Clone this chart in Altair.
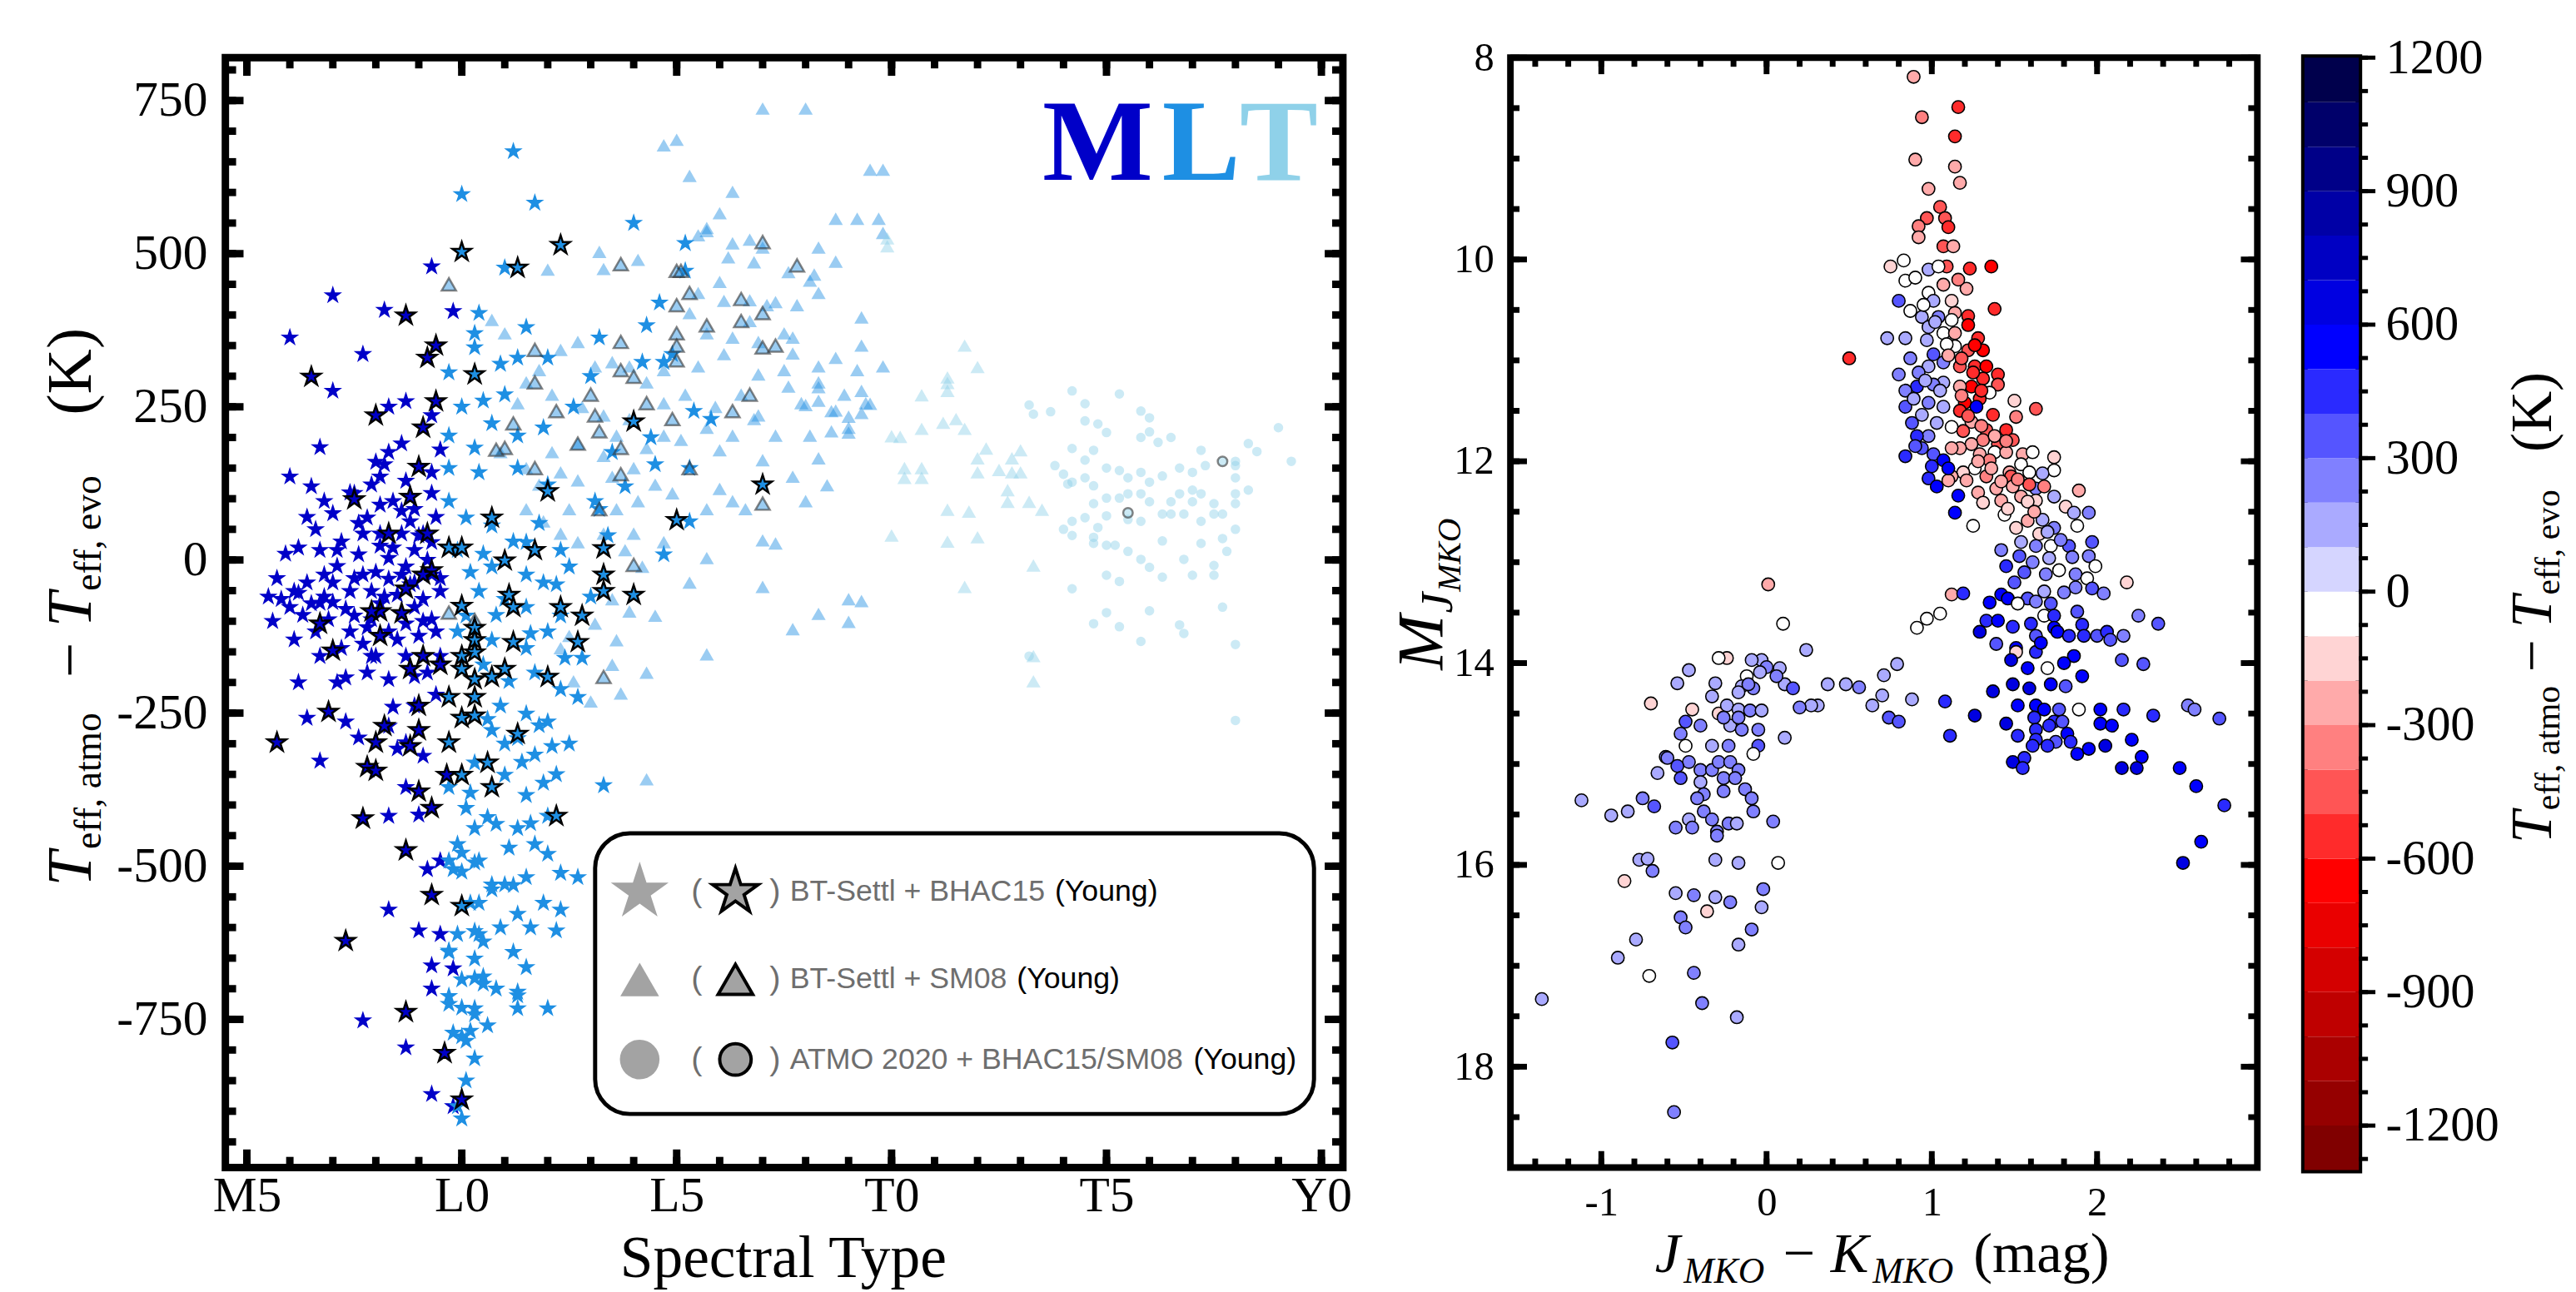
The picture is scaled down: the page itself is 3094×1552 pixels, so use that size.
import altair as alt
import pandas as pd
import numpy as np

SERIF = "Liberation Serif"
SANS = "Liberation Sans"

# ================= LEFT PANEL DATA =================
# x: spectral type index (M5=-5, L0=0, L5=5, T0=10, T5=15, Y0=20); y: Teff,atmo - Teff,evo (K)
m_stars = [(-4.0,363),(-3.0,432),(-2.3,336),(-3.0,276),(-1.8,408),(-0.7,479),(-0.2,406),(-1.3,259),(-1.7,250),(-0.7,236),
 (-3.3,184),(-4.0,136),(-3.5,120),(-3.2,96),(-3.0,76),(-1.7,176),(-1.8,156),(-1.3,129),(-0.7,143),(-2.1,123),(-1.9,136),
 (-2.5,109),(-1.6,96),(-1.1,83),(-0.7,109),(-3.3,16),(-2.9,16),(-2.3,43),(-1.9,23),(-1.4,43),(-1.1,16),(-0.7,29),
 (-4.2,-64),(-3.9,-51),(-3.5,-71),(-3.6,-37),(-3.2,-24),(-3.0,-37),(-2.6,-51),(-2.3,-24),(-2.1,-51),(-1.9,-71),(-1.7,-31),
 (-1.5,-57),(-1.3,-11),(-1.1,-37),(-0.9,-64),(-0.7,-24),(-0.5,-51),(-2.5,-91),(-2.1,-97),(-1.7,-117),(-1.3,-104),(-1.0,-124),
 (-3.3,-157),(-2.8,-144),(-2.1,-157),(-1.7,-195),(-1.3,-157),(-0.8,-184),(-0.5,-157),(-3.6,-258),(-2.7,-264),(-3.3,-328),
 (-1.7,-271),(-1.3,-298),(-1.1,-238),(-1.7,-418),(-1.3,-371),(-0.8,-505),(-1.7,-571),(-1.0,-605),(-0.7,-662),(-0.7,-700),
 (-2.3,-752),(-1.3,-796),(-0.7,-872),(-0.2,-892),(-0.5,-491),(-4.0,-77),(-3.1,-97),(-2.6,-117),(-2.3,-137),(-2.2,69),
 (-1.9,43),(-1.2,63),(-0.9,43),(-2.4,9),(-1.7,3),(-1.4,-24),(-1.1,-77),(-0.7,-97),(-3.4,-117),(-0.5,-611),(-0.2,-667),
 (-1.0,-416),(-2.7,-192),(-2.2,-184),(-1.5,-308),(-0.6,-117),(-2.0,-157),(-3.8,-54),(-3.0,-69),
 (-4.5,-60),(-4.3,-30),(-4.1,10),(-3.8,20),(-3.7,-90),(-3.4,50),(-3.2,-60),(-2.9,-10),(-2.8,30),(-2.7,-80),(-2.5,-30),
 (-2.4,60),(-2.2,-110),(-2.0,-20),(-1.9,90),(-1.8,-60),(-1.6,20),(-1.5,-130),(-1.4,80),(-1.2,-40),(-1.0,40),(-0.9,-100),
 (-0.8,0),(-0.6,70),(-0.5,-30),(-4.4,-100),(-3.9,-130),(-3.6,70),(-3.3,-70),(-2.6,110),(-2.0,160),(-1.4,190),(-1.1,-190),
 (-0.6,-220),(-2.9,-200),(-3.8,-200),(-0.5,180),(-1.6,-240),(-2.4,-290),(-0.9,-320)]
m_young = [(-3.5,299),(-1.3,399),(-0.6,350),(-0.8,330),(-2.0,236),(-0.9,216),(-0.6,259),(-1.0,152),(-1.2,103),(-2.5,99),
 (-1.7,43),(-0.8,43),(-0.7,-17),(-0.9,-24),(-1.3,-47),(-1.9,-84),(-1.4,-87),(-2.1,-84),(-3.3,-104),(-3.0,-148),(-1.9,-124),
 (-1.2,-178),(-0.9,-157),(-0.5,-171),(-3.1,-248),(-1.8,-271),(-1.0,-238),(-1.0,-278),(-2.0,-298),(-1.2,-304),(-2.2,-338),
 (-2.0,-344),(-1.0,-378),(-0.7,-405),(-2.3,-422),(-1.3,-474),(-0.7,-547),(-2.7,-622),(-1.3,-738),(-0.4,-805),(0.0,-881),
 (-4.3,-298),(-0.35,-351)]
l_stars = [(1.2,667),(0.0,597),(1.7,583),(4.0,550),(1.0,477),(5.2,517),(5.2,472),(0.4,403),(0.3,370),(0.3,347),(-0.3,306),
 (0.0,250),(1.0,270),(1.3,330),(4.3,383),(4.2,323),(0.7,223),(-0.3,203),(0.3,183),(1.3,203),(1.9,216),(-0.3,150),(0.4,143),
 (1.3,150),(2.0,123),(3.1,96),(3.2,83),(4.5,156),(5.8,230),(5.3,150),(4.7,9),(5.3,63),(-0.3,96),(0.1,69),(0.7,56),(1.5,29),
 (2.3,16),(-0.1,16),(0.7,-11),(1.5,-24),(1.9,-37),(2.5,-11),(0.4,-51),(1.0,-64),(1.5,-77),(2.3,-91),(0.1,-91),(-0.1,-117),
 (0.7,-131),(1.5,-144),(2.0,-117),(0.5,-171),(1.1,-198),(1.7,-184),(2.3,-211),(2.7,-224),(0.9,-238),(1.5,-251),(2.0,-264),
 (1.3,-291),(0.7,-278),(1.7,-318),(2.1,-304),(0.3,-331),(1.0,-351),(1.5,-384),(1.9,-364),(3.3,-368),(-0.3,-371),(0.1,-405),
 (0.8,-431),(1.3,-438),(1.7,-464),(0.3,-438),(2.0,-418),(-0.1,-464),(-0.2,-505),(0.4,-491),(1.5,-518),(2.3,-511),(2.7,-518),
 (0.7,-538),(1.2,-531),(2.3,-571),(1.3,-578),(-0.1,-611),(0.4,-611),(2.2,-605),(1.5,-665),(-0.3,-638),(0.3,-651),(0.0,-685),
 (0.5,-692),(1.3,-705),(2.0,-732),(1.3,-732),(-0.3,-725),(0.3,-732),(-0.2,-772),(0.1,-785),(0.3,-814),(0.0,-912),(-0.1,-892),
 (4.9,336),(5.4,243),(4.7,323),(3.5,176),(3.2,363),(0.0,-478),(-0.3,-491),(0.3,-494),(0.0,-509),(0.7,-530),(1.0,-530),
 (0.5,-623),(0.3,-606),(-0.3,-640),(0.3,-683),(0.5,-680),(1.3,-711),(0.0,-731),(0.3,-742),(0.2,-769),(0.0,-778),(-0.3,-712),
 (0.2,-20),(0.5,10),(0.8,-90),(1.2,30),(1.6,-120),(1.8,60),(2.2,-40),(2.4,-160),(0.6,-260),(1.0,-300),(1.4,-330),(1.8,-270),
 (2.2,-350),(0.2,-380),(0.6,-420),(1.1,-470),(1.6,-430),(2.0,-480),(0.4,-560),(0.9,-600),(1.6,-600),(0.8,-700),(0.6,-760),
 (1.2,-640),(0.1,-850),(0.2,-560),(1.9,-560),(2.5,-300),(2.8,-160),(3.0,-60),(3.4,40),(3.8,120),(4.4,200),(3.0,300),
 (2.6,250),(2.0,330),(1.5,380),(0.9,320),(0.5,260),(4.6,420)]
l_young = [(0.0,503),(1.3,477),(2.3,514),(0.3,303),(4.0,226),(2.0,112),(0.7,69),(-0.3,20),(0.0,20),(1.7,16),(1.0,-1),
 (3.3,19),(3.3,-24),(3.3,-51),(4.0,-57),(0.0,-75),(1.1,-57),(1.2,-77),(2.3,-77),(2.8,-91),(2.7,-134),(0.3,-111),(0.3,-131),
 (0.3,-151),(0.0,-157),(1.2,-134),(1.0,-178),(0.0,-178),(0.3,-195),(0.7,-191),(2.0,-191),(-0.3,-224),(0.3,-224),(0.0,-258),
 (0.3,-254),(1.3,-284),(-0.3,-298),(0.6,-331),(0.0,-351),(0.7,-371),(2.2,-418),(0.0,-565),(7.0,123),(5.0,65)]
l_tris = [(0.7,392),(1.0,370),(2.0,474),(3.2,503),(3.3,475),(4.1,490),(4.7,677),(5.0,686),(5.3,627),(6.3,601),(6.0,566),
 (5.5,530),(5.7,537),(7.0,737),(8.0,737),(6.3,517),(6.7,523),(7.0,510),(7.6,470),(8.3,510),(8.7,557),(9.2,557),(9.5,637),
 (9.8,637),(9.7,557),(9.8,534),(8.1,456),(8.3,436),(7.8,416),(7.1,416),(6.7,390),(6.1,423),(5.5,436),(5.3,403),(5.7,370),
 (6.3,363),(6.9,356),(7.5,370),(9.3,396),(9.3,350),(8.7,330),(9.8,316),(9.2,310),(8.3,316),(7.5,310),(6.9,303),(6.1,336),
 (5.5,316),(4.7,310),(4.3,290),(3.9,316),(3.5,323),(3.1,316),(2.7,356),(2.3,343),(1.8,310),(1.5,290),(1.3,256),(2.1,270),
 (2.8,250),(3.3,236),(3.9,230),(4.7,256),(5.2,270),(5.9,250),(6.5,270),(6.9,236),(7.6,283),(7.9,256),(8.3,290),(8.6,243),
 (8.9,270),(9.4,256),(9.0,216),(8.6,210),(8.1,203),(7.3,203),(6.8,230),(6.3,203),(5.7,216),(5.1,196),(4.7,203),(4.3,183),
 (3.6,203),(3.3,170),(2.7,190),(2.1,176),(1.5,150),(0.9,176),(1.8,123),(2.3,143),(2.7,130),(3.5,136),(4.0,150),(4.5,123),
 (4.9,109),(6.0,116),(7.0,163),(8.0,96),(8.3,166),(7.7,136),(6.6,83),(6.3,96),(5.7,83),(4.1,96),(3.6,83),(2.5,83),(1.9,63),
 (1.5,83),(2.3,43),(2.7,29),(3.3,43),(3.8,16),(4.2,-11),(4.7,29),(5.3,-37),(4.0,43),(7.0,32),(7.3,27),(5.7,3),(7.0,-44),
 (9.0,-64),(9.3,-67),(8.3,-88),(7.7,-113),(9.0,-101),(4.5,-91),(3.9,-84),(3.5,-64),(3.1,-104),(2.5,-124),(2.3,-144),
 (3.6,-131),(4.3,-184),(5.7,-154),(3.7,-218),(3.0,-231),(2.6,-198),(4.3,-358),(3.5,-171),(8.2,466),(8.7,487),(7.7,363),
 (7.7,337),(7.3,421),(8.0,253),(8.3,260),(8.7,244),(9.3,276),(9.5,255),(9.0,234),(9.0,208),(9.3,240),(8.5,122),(8.3,282),
 (5.7,542),(6.2,494),(6.8,486),(6.0,454),(6.7,424),(6.0,179)]
l_tris_young = [(-0.3,450),(1.7,343),(1.7,290),(1.2,223),(2.2,243),(1.0,183),(0.8,180),(1.7,150),(2.7,190),(3.0,270),
 (3.1,236),(3.2,210),(3.7,356),(3.7,310),(4.0,299),(3.7,183),(3.7,140),(4.3,256),(3.2,83),(4.0,-8),(5.0,472),(5.1,472),
 (5.3,436),(5.0,416),(5.0,370),(5.0,350),(5.0,326),(4.9,230),(5.7,383),(5.3,150),(6.3,243),(6.7,270),(6.5,426),(6.5,390),
 (7.0,519),(7.0,403),(7.0,347),(7.3,350),(7.8,481),(7.0,92),(3.3,-191),(3.7,483),(-0.3,-86),(0.3,-98)]
t_tris = [(9.9,525),(9.9,512),(10.0,202),(10.2,201),(10.7,214),(10.7,269),(11.3,289),(11.3,298),(11.3,276),(11.7,350),
 (12.0,315),(10.3,150),(10.7,150),(10.3,134),(10.7,134),(11.2,224),(11.5,230),(11.7,214),(12.0,166),(12.2,182),(12.0,143),
 (12.5,147),(12.8,166),(13.0,179),(12.8,143),(13.0,143),(12.7,114),(12.7,95),(13.2,95),(13.5,82),(10.0,40),(11.3,82),
 (11.3,30),(11.8,79),(12.0,37),(13.3,-9),(11.7,-44),(13.3,-157),(13.3,-198)]
t_circles = [(14.2,276),(15.3,271),(13.2,253),(13.3,238),(13.7,242),(14.5,255),(15.8,243),(16.0,232),(14.5,227),(14.8,222),
 (15.0,208),(15.8,200),(16.0,209),(16.2,192),(16.5,200),(17.2,179),(18.3,190),(18.5,177),(19.0,216),(19.3,161),(14.2,182),
 (14.7,179),(14.5,163),(13.8,154),(14.0,140),(14.1,124),(14.2,127),(14.5,134),(14.7,121),(15.0,150),(15.3,146),(15.5,134),
 (15.8,143),(16.0,127),(16.3,137),(16.7,150),(17.0,143),(17.3,154),(18.0,154),(18.0,134),(18.3,114),(18.0,108),(18.0,92),
 (17.5,92),(17.2,108),(17.0,114),(17.0,95),(16.7,108),(16.5,95),(16.3,75),(16.0,95),(15.8,108),(15.5,108),(15.3,101),
 (15.0,101),(14.7,92),(14.5,69),(14.2,63),(14.0,50),(14.2,40),(14.8,53),(15.0,72),(15.5,66),(15.8,63),(16.5,75),(16.8,75),
 (17.2,63),(17.5,75),(17.7,75),(18.0,50),(17.7,35),(17.8,14),(17.5,-9),(17.5,-25),(17.2,27),(16.8,1),(17.0,-25),(16.3,31),
 (16.3,-28),(16.0,-12),(15.8,1),(15.5,14),(15.2,24),(15.0,24),(14.7,27),(14.7,37),(15.0,-25),(15.3,-35),(14.2,-47),
 (18.0,161),(17.7,-77),(16.0,-83),(15.0,-86),(14.7,-104),(15.3,-109),(16.7,-106),(16.8,-120),(15.8,-133),(18.0,-138),
 (13.2,-157),(18.0,-262)]
t_circles_young = [(17.7,161),(15.5,77)]

sp_major = [-5, 0, 5, 10, 15, 20]
sp_labels = ["M5", "L0", "L5", "T0", "T5", "Y0"]
sp_minor = list(range(-5, 21))
dt_major = [-750, -500, -250, 0, 250, 500, 750]
dt_minor = list(range(-950, 801, 50))

# ================= RIGHT PANEL DATA =================
# (J-K MKO, M_J MKO, Teff,atmo - Teff,evo)
cmd = [(0.89,8.19,-250),(1.16,8.49,-600),(0.94,8.59,-400),(1.14,8.78,-550),(0.90,9.01,-300),(1.14,9.08,-250),(1.17,9.24,-300),
 (0.98,9.30,-300),(1.05,9.48,-450),(0.97,9.59,-450),(0.92,9.67,-350),(1.08,9.59,-500),(1.10,9.68,-550),(0.92,9.78,-300),
 (1.07,9.87,-450),(1.13,9.87,-300),(0.83,10.01,-50),(0.75,10.07,-200),(1.09,10.07,-500),(1.23,10.09,-600),(1.36,10.07,-650),
 (0.84,10.21,-50),(0.90,10.18,-50),(0.98,10.10,100),(1.04,10.07,-50),(1.07,10.25,-250),(1.21,10.29,-300),(0.80,10.41,300),
 (0.98,10.33,-50),(1.01,10.41,100),(1.12,10.41,-200),(1.14,10.53,-300),(1.22,10.56,-550),(1.38,10.49,-600),(0.87,10.51,-50),
 (0.94,10.57,150),(1.04,10.57,200),(1.22,10.65,-650),(0.73,10.78,100),(0.84,10.78,150),(0.98,10.67,150),(1.07,10.73,-50),
 (1.14,10.73,-300),(1.28,10.78,-600),(1.31,10.90,-650),(1.22,10.90,-500),(1.14,10.86,-50),(1.09,10.84,-50),(1.01,10.94,300),
 (0.87,10.98,200),(0.50,10.98,-550),(0.80,11.14,200),(0.98,11.06,150),(1.07,11.02,200),(1.17,11.06,-500),(1.26,11.06,-550),
 (1.33,11.06,-650),(1.40,11.14,-600),(1.40,11.24,-500),(1.31,11.18,-600),(1.24,11.26,-650),(1.17,11.26,-300),(1.07,11.22,150),
 (1.01,11.24,200),(0.91,11.26,400),(0.84,11.30,200),(1.35,11.32,-50),(1.29,11.38,-550),(1.20,11.42,-700),(1.27,11.46,500),
 (1.17,11.50,-600),(1.07,11.46,100),(0.98,11.42,200),(0.84,11.46,350),(0.89,11.38,150),(1.50,11.40,-200),(1.63,11.48,-500),
 (1.37,11.54,-550),(1.51,11.56,-400),(1.24,11.61,-300),(1.12,11.66,-100),(1.03,11.62,150),(0.94,11.54,150),(1.19,11.70,-500),
 (1.33,11.69,-500),(1.45,11.69,-550),(1.49,11.79,-500),(1.40,11.83,-450),(1.31,11.79,-350),(1.24,11.83,-300),(1.17,11.87,-250),
 (1.12,11.87,-300),(0.98,11.75,250),(0.91,11.75,400),(0.94,11.87,350),(1.01,11.93,300),(0.84,11.95,400),(1.07,11.99,500),
 (1.29,11.93,-300),(1.38,11.91,-50),(1.45,11.91,-300),(1.55,11.93,-250),(1.61,11.91,-50),(1.35,11.99,-350),(1.26,12.07,-50),
 (1.19,12.11,-200),(1.12,12.15,-300),(1.10,12.19,-250),(0.98,12.17,400),(1.10,12.07,500),(1.21,12.19,-250),(1.33,12.15,-400),
 (1.47,12.11,-250),(1.54,12.03,-50),(1.59,12.11,-50),(1.74,11.96,-200),(1.74,12.09,-50),(1.67,12.12,150),(1.63,12.27,200),
 (1.68,12.25,-400),(1.59,12.23,-450),(1.48,12.15,-450),(1.49,12.25,-300),(1.39,12.27,-250),(1.28,12.31,-300),(1.16,12.34,500),
 (1.31,12.41,-200),(1.42,12.39,-300),(1.54,12.35,-250),(1.63,12.39,-200),(1.74,12.35,150),(1.89,12.29,-250),(1.81,12.45,-200),
 (1.86,12.51,150),(1.95,12.51,200),(1.88,12.64,-50),(1.14,12.51,500),(1.25,12.64,-50),(1.44,12.53,-50),(1.51,12.66,-200),
 (1.58,12.59,-250),(1.67,12.58,150),(1.74,12.66,200),(1.65,12.72,-150),(1.54,12.80,150),(1.63,12.84,200),(1.72,12.84,-50),
 (1.83,12.84,300),(1.97,12.80,300),(1.95,12.94,200),(1.42,12.88,200),(1.53,12.94,350),(1.45,13.04,400),(1.61,13.00,200),
 (1.71,12.96,150),(1.77,13.08,-50),(1.69,13.12,200),(1.87,13.12,200),(1.94,13.16,-50),(1.99,13.04,-50),(1.97,13.26,300),
 (1.87,13.25,200),(2.04,13.31,200),(2.18,13.20,-200),(1.68,13.29,150),(1.58,13.36,300),(1.63,13.39,200),(1.72,13.41,300),
 (1.42,13.32,500),(1.46,13.36,550),(1.52,13.41,-50),(1.68,13.53,-50),(1.74,13.53,450),(1.88,13.49,300),(1.91,13.62,400),
 (2.00,13.73,350),(1.33,13.58,450),(1.40,13.58,500),(1.29,13.69,600),(1.49,13.64,400),(1.60,13.61,400),(1.63,13.73,300),
 (1.74,13.65,550),(1.76,13.69,500),(1.83,13.73,450),(1.92,13.73,400),(2.06,13.69,400),(2.08,13.77,300),(2.16,13.73,200),
 (2.25,13.53,200),(2.37,13.61,300),(2.15,13.97,350),(2.28,14.01,350),(1.51,13.85,500),(1.51,13.89,-200),(1.48,13.97,600),
 (1.39,13.81,300),(1.63,13.89,400),(1.86,13.93,500),(1.91,14.13,500),(1.70,14.05,-50),(1.58,14.05,500),(1.37,14.28,600),
 (1.49,14.21,600),(1.59,14.25,600),(1.72,14.21,500),(1.81,14.23,350),(1.52,14.42,550),(1.63,14.42,500),(1.68,14.46,500),
 (1.77,14.46,300),(1.89,14.46,-50),(2.02,14.46,500),(2.16,14.46,450),(2.34,14.52,450),(1.62,14.54,400),(1.74,14.58,400),
 (1.79,14.58,300),(1.63,14.66,450),(1.71,14.62,400),(1.82,14.70,500),(1.52,14.72,450),(1.63,14.76,400),(1.75,14.78,350),
 (1.61,14.82,400),(1.70,14.82,400),(1.84,14.78,450),(2.02,14.60,500),(2.09,14.62,500),(2.21,14.76,550),(2.05,14.82,600),
 (1.88,14.90,500),(1.56,14.94,450),(1.49,14.98,600),(2.27,14.93,550),(2.15,15.04,600),(2.24,15.04,600),(2.50,15.04,500),
 (2.60,15.22,500),(2.77,15.41,450),(2.63,15.77,550),(2.52,15.98,600),(2.55,14.42,250),(2.59,14.46,250),(2.74,14.55,350),
 (1.55,15.04,450),
 (0.95,10.45,-50),(1.02,10.62,150),(1.10,10.95,-300),(1.18,10.98,-450),(1.25,11.12,-600),(1.30,11.30,-550),(1.18,11.35,-400),
 (1.05,11.30,150),(0.92,11.12,200),(0.96,11.20,150),(1.22,11.55,-450),(1.30,11.65,-400),(1.38,11.75,-300),(1.45,11.80,-350),
 (1.28,12.00,-300),(1.36,12.07,-250),(1.42,12.20,-300),(1.52,12.18,-350),(1.58,12.40,-200),(1.62,12.50,-250),(1.46,12.47,-200),
 (1.70,12.70,150),(1.78,12.78,200),(1.85,12.95,200),(1.56,13.10,300),(1.50,13.20,300),(1.80,13.30,200),(1.35,13.40,500),
 (1.66,13.80,500),(1.80,14.00,500),(1.45,14.60,600),(1.95,14.85,550),(0.88,11.62,300),(0.90,11.85,350),(1.00,12.05,450),
 (1.03,12.25,500),(0.97,10.80,150),(1.12,10.60,-100),(1.26,10.85,-650),(1.16,10.20,-400),
 (0.01,13.22,-250),(0.10,13.61,-50),(0.24,13.87,150),(0.37,14.21,150),(0.31,14.42,100),(0.27,14.42,100),(0.20,14.44,200),
 (0.11,14.21,150),(0.16,14.25,300),(0.48,14.21,150),(0.56,14.24,200),(0.64,14.42,100),(0.70,14.32,150),(0.74,14.54,300),
 (0.80,14.58,300),(0.79,14.01,150),(0.71,14.12,150),(0.88,14.36,100),(0.91,13.65,-50),(0.97,13.56,-50),(1.05,13.51,-50),
 (1.12,13.32,-250),(1.19,13.31,400),(1.08,14.38,400),(1.11,14.72,400),(1.26,14.52,600),(0.08,14.05,150),(0.06,14.13,200),
 (-0.03,13.97,150),(-0.09,13.97,150),(0.00,14.04,200),(-0.04,14.09,150),(-0.12,14.13,-50),(-0.15,14.23,150),(-0.08,14.25,200),
 (-0.17,14.29,150),(-0.11,14.21,200),(-0.24,13.95,-200),(-0.29,13.95,-50),(-0.33,14.33,100),(-0.47,14.07,150),(-0.54,14.20,150),
 (-0.31,14.20,150),(-0.70,14.40,-200),(-0.45,14.46,-200),(-0.49,14.58,300),(-0.52,14.70,200),(-0.40,14.62,200),(-0.29,14.50,-150),
 (-0.24,14.42,150),(-0.17,14.46,150),(-0.10,14.47,200),(-0.03,14.47,150),(-0.22,14.62,150),(-0.15,14.66,200),(-0.05,14.66,200),
 (-0.26,14.54,200),(-0.17,14.54,200),(-0.33,14.82,150),(-0.23,14.82,200),(-0.05,14.82,300),(-0.08,14.90,-50),(0.11,14.74,150),
 (-0.49,14.82,-50),(-0.47,14.98,200),(-0.40,15.06,200),(-0.61,14.93,200),(-0.54,15.02,300),(-0.52,15.14,300),(-0.66,15.09,150),
 (-0.33,15.06,200),(-0.29,14.98,200),(-0.22,14.98,200),(-0.17,15.06,200),(-0.26,15.14,200),(-0.19,15.14,200),(-0.40,15.18,150),
 (-0.38,15.30,200),(-0.26,15.27,200),(-0.13,15.25,200),(-0.42,15.34,200),(-0.38,15.47,200),(-0.47,15.55,150),(-0.33,15.55,200),
 (-0.45,15.63,200),(-0.30,15.67,200),(-0.23,15.59,200),(-0.30,15.71,200),(-0.09,15.34,200),(-0.08,15.47,200),(0.04,15.57,200),
 (-0.18,15.59,150),(-0.55,15.63,200),(-0.75,15.34,200),(-0.68,15.42,300),(-0.84,15.47,150),(-0.94,15.51,150),(-1.12,15.36,150),
 (-0.60,14.94,200),(-0.77,15.95,150),(-0.72,15.94,150),(-0.69,16.06,200),(-0.86,16.16,-200),(-0.31,15.95,150),(-0.17,15.98,150),
 (0.07,15.98,-50),(-0.55,16.28,150),(-0.44,16.30,200),(-0.31,16.32,150),(-0.36,16.46,-200),(-0.22,16.37,200),(-0.02,16.24,200),
 (-0.03,16.42,150),(-0.52,16.52,200),(-0.49,16.62,200),(-0.09,16.64,200),(-0.17,16.79,150),(-0.79,16.74,150),(-0.90,16.92,150),
 (-0.71,17.10,-50),(-0.44,17.07,200),(-0.39,17.37,200),(-0.18,17.51,150),(-1.36,17.33,150),(-0.57,17.76,300),(-0.56,18.45,200)]

jk_major = [-1, 0, 1, 2]
jk_minor = [round(-1.4 + 0.2 * i, 2) for i in range(22)]
mj_major = [8, 10, 12, 14, 16, 18]
mj_minor = [8 + 0.5 * i for i in range(22)]
cb_edges = list(range(-1300, 1201, 100))
cb_major = [-1200, -900, -600, -300, 0, 300, 600, 900, 1200]
cb_minor = list(range(-1275, 1201, 75))

# ================= styling =================
M_COL = "#0000C8"
L_COL = "#1E8FE3"
T_COL = "#8FD1E9"
GRAY = "#a3a3a3"
STAR = "M0,-1L0.2245,-0.309L0.951,-0.309L0.363,0.118L0.588,0.809L0,0.382L-0.588,0.809L-0.363,0.118L-0.951,-0.309L-0.2245,-0.309Z"


def seismic(t):
    xs = [0, 0.25, 0.5, 0.75, 1]
    r = np.interp(t, xs, [0, 0, 1, 1, 0.5])
    g = np.interp(t, xs, [0, 0, 1, 0, 0])
    b = np.interp(t, xs, [0.3, 1, 1, 0, 0])
    return "#%02x%02x%02x" % (int(round(r * 255)), int(round(g * 255)), int(round(b * 255)))


band_colors = [seismic(1 - i / 24) for i in range(25)]

one = pd.DataFrame({"a": [0]})


def txt(s, x, y, size, font=SERIF, style="normal", weight="normal", color="black", angle=0, align="left",
        baseline="alphabetic"):
    return alt.Chart(one).mark_text(text=s, font=font, fontSize=size, fontStyle=style, fontWeight=weight,
                                    color=color, angle=angle, align=align, baseline=baseline).encode(
        x=alt.value(x), y=alt.value(y))


def pts(df_list):
    return pd.DataFrame(df_list, columns=["x", "y"])


# ================= LEFT CHART =================
LW, LH = 1354, 1345
xs_l = alt.Scale(domain=[-5.5, 20.5], nice=False, zero=False)
ys_l = alt.Scale(domain=[-992, 820], nice=False, zero=False)
lab = "''"
for v, l in zip(sp_major, sp_labels):
    lab = f"datum.value == {v} ? '{l}' : " + lab
ax_lx = alt.Axis(values=sp_major, labelExpr=lab, title=None, labelFont=SERIF, labelFontSize=60, labelPadding=5,
                 domain=False, ticks=False, tickSize=0, grid=False, labelColor="black")
ax_ly = alt.Axis(values=dt_major, labelExpr="'' + datum.value", title=None, labelFont=SERIF, labelFontSize=60,
                 labelPadding=22, domain=False, ticks=False, tickSize=0, grid=False, labelColor="black")
XL = alt.X("x:Q", scale=xs_l, axis=ax_lx)
YL = alt.Y("y:Q", scale=ys_l, axis=ax_ly)


def layer_pts(data, shape, size, fill, fo=1.0, stroke=None, sw=0.0, so=1.0):
    kw = dict(shape=shape, filled=True, size=size, fill=fill, fillOpacity=fo, opacity=1, strokeWidth=sw)
    if stroke is not None:
        kw["stroke"] = stroke
        kw["strokeOpacity"] = so
    return alt.Chart(pts(data)).mark_point(**kw).encode(x=XL, y=YL)


def side_ticks(vals, length, width, which, xenc, yenc, W, H):
    df = pd.DataFrame({"x": vals, "y": vals})
    out = []
    if which == "x":
        out.append(alt.Chart(df).mark_rule(color="black", strokeWidth=width).encode(
            x=xenc, y=alt.value(H), y2=alt.value(H - length)))
        out.append(alt.Chart(df).mark_rule(color="black", strokeWidth=width).encode(
            x=xenc, y=alt.value(0), y2=alt.value(length)))
    else:
        out.append(alt.Chart(df).mark_rule(color="black", strokeWidth=width).encode(
            y=yenc, x=alt.value(0), x2=alt.value(length)))
        out.append(alt.Chart(df).mark_rule(color="black", strokeWidth=width).encode(
            y=yenc, x=alt.value(W), x2=alt.value(W - length)))
    return out


STAR_SIZE = 560
TRI_SIZE = 300
left_layers = [
    alt.Chart(one).mark_rect(color="white", opacity=1).encode(x=alt.value(-260), x2=alt.value(-256),
                                                              y=alt.value(-50), y2=alt.value(-46)),
    layer_pts(l_tris, "triangle-up", TRI_SIZE, L_COL, fo=0.45),
    layer_pts(t_tris, "triangle-up", TRI_SIZE, T_COL, fo=0.45),
    layer_pts(t_circles, "circle", 135, T_COL, fo=0.45),
    layer_pts(m_stars, STAR, STAR_SIZE, M_COL),
    layer_pts(l_stars, STAR, STAR_SIZE, L_COL),
    layer_pts(l_tris_young, "triangle-up", TRI_SIZE, L_COL, fo=0.45, stroke="#333333", sw=2.5, so=0.6),
    layer_pts(t_circles_young, "circle", 135, T_COL, fo=0.45, stroke="#333333", sw=2.5, so=0.6),
    layer_pts(m_young, STAR, STAR_SIZE, M_COL, stroke="black", sw=2.5),
    layer_pts(l_young, STAR, STAR_SIZE, L_COL, stroke="black", sw=2.5),
]
left_layers += side_ticks(sp_minor, 13, 9, "x", XL, YL, LW, LH)
left_layers += side_ticks(sp_major, 22, 9, "x", XL, YL, LW, LH)
left_layers += side_ticks(dt_minor, 13, 9, "y", XL, YL, LW, LH)
left_layers += side_ticks(dt_major, 22, 9, "y", XL, YL, LW, LH)

# MLT
left_layers += [txt("M", 990, 148, 142, weight="bold", color=M_COL),
                txt("L", 1135, 148, 142, weight="bold", color=L_COL),
                txt("T", 1229, 148, 142, weight="bold", color=T_COL)]
# legend box
left_layers.append(alt.Chart(one).mark_rect(fill="white", stroke="black", strokeWidth=5, cornerRadius=42).encode(
    x=alt.value(448), x2=alt.value(1319), y=alt.value(940), y2=alt.value(1280)))
rows = [(1011, STAR, 5420, 3340, "BT-Settl + BHAC15", 1005),
        (1117, "triangle-up", 2200, 1760, "BT-Settl + SM08", 959),
        (1214, "circle", 2300, 1450, "ATMO 2020 + BHAC15/SM08", 1173)]
for ry, shp, s_big, s_small, label, yx in rows:
    left_layers.append(alt.Chart(one).mark_point(shape=shp, filled=True, size=s_big, fill=GRAY, opacity=1,
                                                 strokeWidth=0).encode(x=alt.value(502), y=alt.value(ry)))
    left_layers.append(alt.Chart(one).mark_point(shape=shp, filled=True, size=s_small, fill=GRAY, opacity=1,
                                                 stroke="black", strokeWidth=4).encode(x=alt.value(618),
                                                                                       y=alt.value(ry)))
    left_layers.append(txt("(", 571, ry, 40, font=SANS, color="#6e6e6e", align="center", baseline="middle"))
    left_layers.append(txt(")", 666, ry, 40, font=SANS, color="#6e6e6e", align="center", baseline="middle"))
    left_layers.append(txt(label, 684, ry, 36, font=SANS, color="#6e6e6e", baseline="middle"))
    left_layers.append(txt("(Young)", yx, ry, 36, font=SANS, color="black", baseline="middle"))

# axis titles
left_layers += [
    txt("Spectral Type", 676, 1478, 72, align="center"),
    txt("T", -163, 1004, 76, style="italic", angle=270),
    txt("eff, atmo", -151, 959, 46, angle=270),
    txt("\u2212", -163, 730, 76, angle=270, align="center"),
    txt("T", -163, 690, 76, style="italic", angle=270),
    txt("eff, evo", -151, 646, 46, angle=270),
    txt("(K)", -163, 433, 76, angle=270),
]
left = alt.layer(*left_layers).properties(width=LW, height=LH,
                                          view=alt.ViewBackground(stroke="black", strokeWidth=9, fill="white"))

# ================= RIGHT CHART =================
RW, RH = 905, 1345
xs_r = alt.Scale(domain=[-1.55, 2.97], nice=False, zero=False)
ys_r = alt.Scale(domain=[8, 19], nice=False, zero=False, reverse=True)
ax_rx = alt.Axis(values=jk_major, labelExpr="'' + datum.value", title=None, labelFont=SERIF, labelFontSize=49,
                 labelPadding=18, domain=False, ticks=False, tickSize=0, grid=False, labelColor="black")
ax_ry = alt.Axis(values=mj_major, labelExpr="'' + datum.value", title=None, labelFont=SERIF, labelFontSize=49,
                 labelPadding=20, domain=False, ticks=False, tickSize=0, grid=False, labelColor="black")
XR = alt.X("x:Q", scale=xs_r, axis=ax_rx)
YR = alt.Y("y:Q", scale=ys_r, axis=ax_ry)
df_cmd = pd.DataFrame(cmd, columns=["x", "y", "dT"])
right_layers = [
    alt.Chart(df_cmd).mark_circle(size=235, stroke="black", strokeWidth=1.6, opacity=1).encode(
        x=XR, y=YR,
        color=alt.Color("dT:Q", scale=alt.Scale(type="threshold", domain=cb_edges[1:-1], range=band_colors),
                        legend=None)),
]
right_layers += side_ticks(jk_minor, 11, 7, "x", XR, YR, RW, RH)
right_layers += side_ticks(jk_major, 20, 7, "x", XR, YR, RW, RH)
right_layers += side_ticks(mj_minor, 11, 7, "y", XR, YR, RW, RH)
right_layers += side_ticks(mj_major, 20, 7, "y", XR, YR, RW, RH)
right_layers += [
    txt("J", 175, 1472, 69, style="italic"),
    txt("MKO", 210, 1485, 44, style="italic"),
    txt("\u2212", 350, 1472, 69, align="center"),
    txt("K", 388, 1472, 69, style="italic"),
    txt("MKO", 439, 1485, 44, style="italic"),
    txt("(mag)", 561, 1472, 69),
    txt("M", -83, 742, 80, style="italic", angle=270),
    txt("J", -71, 673, 56, style="italic", angle=270),
    txt("MKO", -61, 647, 40, style="italic", angle=270),
]
right = alt.layer(*right_layers).properties(width=RW, height=RH,
                                            view=alt.ViewBackground(stroke="black", strokeWidth=8, fill="white"))

# ================= COLORBAR =================
CBW, CBH = 66, 1348
df_cb = pd.DataFrame({"lo": cb_edges[:-1], "hi": cb_edges[1:], "c": band_colors})
ys_cb = alt.Scale(domain=[-1300, 1200], nice=False, zero=False)
ax_cb = alt.Axis(values=cb_major, labelExpr="'' + datum.value", orient="right", title=None, labelFont=SERIF,
                 labelFontSize=59, labelPadding=32, domain=False, ticks=False, tickSize=0, grid=False,
                 labelColor="black")
YCB = alt.Y("lo:Q", scale=ys_cb, axis=ax_cb)
cb_layers = [
    alt.Chart(df_cb).mark_rect().encode(y=YCB, y2="hi:Q", x=alt.value(0), x2=alt.value(CBW),
                                        color=alt.Color("c:N", scale=None)),
    alt.Chart(pd.DataFrame({"lo": cb_minor})).mark_rule(color="black", strokeWidth=5).encode(
        y=YCB, x=alt.value(CBW), x2=alt.value(CBW + 11)),
    alt.Chart(pd.DataFrame({"lo": cb_major})).mark_rule(color="black", strokeWidth=5).encode(
        y=YCB, x=alt.value(CBW), x2=alt.value(CBW + 20)),
    txt("T", 299, 952, 70, style="italic", angle=270),
    txt("eff, atmo", 309, 912, 42, angle=270),
    txt("\u2212", 299, 725, 70, angle=270, align="center"),
    txt("T", 299, 691, 70, style="italic", angle=270),
    txt("eff, evo", 309, 651, 42, angle=270),
    txt("(K)", 299, 478, 70, angle=270),
]
cbar = alt.layer(*cb_layers).properties(width=CBW, height=CBH,
                                        view=alt.ViewBackground(stroke="black", strokeWidth=8))

spacer = alt.Chart(one).mark_point(opacity=0).encode(x=alt.value(0), y=alt.value(0)).properties(
    width=89, height=RH, view=alt.ViewBackground(strokeOpacity=0, fillOpacity=0))

chart = alt.hconcat(left, spacer, right, cbar, spacing=57, bounds="flush").properties(
    padding=0, background="white").configure_view(stroke="black", strokeWidth=9)

chart.save("out.html", embed_options={"renderer": "svg", "actions": False})
